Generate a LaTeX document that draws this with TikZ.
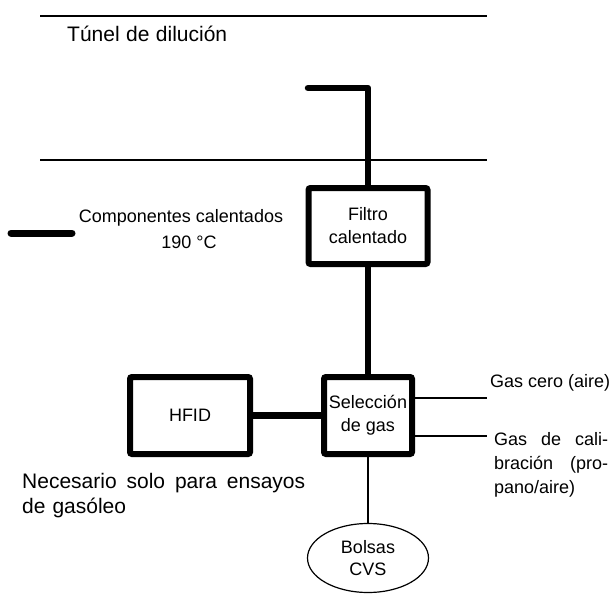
\documentclass[tikz,border=0pt]{standalone}
\usepackage{fontspec}
\setmainfont{Liberation Sans}
\usetikzlibrary{shapes.geometric}
\newcommand\myjustline[2]{\leavevmode\hbox to #1{#2}}
\begin{document}
\begin{tikzpicture}[x=1pt,y=-1pt,
  every node/.style={font=\fontsize{18}{24}\selectfont, inner sep=0pt},
  hbox/.style={draw, line width=6pt, rounded corners=2pt, align=center, fill=white, font=\fontsize{18}{23}\selectfont},
  thinline/.style={line width=1.2pt},
  heated/.style={line width=6.5pt, line cap=round, line join=round},
  tunnel/.style={line width=1.3pt},
  bigtext/.style={font=\fontsize{21}{25}\selectfont}]
\useasboundingbox (0,0) rectangle (611,594);

% dilution tunnel
\coordinate (t1a) at (40,16);
\coordinate (t1b) at (487,16);
\coordinate (t2a) at (40,160);
\coordinate (t2b) at (487,160);
\draw[tunnel] (t1a) -- (t1b);
\draw[tunnel] (t2a) -- (t2b);
\node[anchor=west, bigtext] (tunel) at (67,34) {\myjustline{160pt}{Túnel\hfill de\hfill dilución}};

% nodes
\node[hbox, minimum width=119pt, minimum height=76pt] (filt) at (368,226) {Filtro\\calentado};
\node[hbox, minimum width=88pt, minimum height=77pt] (sel) at (368,415.5) {Selección\\de gas};
\node[hbox, minimum width=120pt, minimum height=77pt] (hfid) at (190,415.5) {HFID};
\node[draw, ellipse, thinline, minimum width=121pt, minimum height=69pt, align=center, font=\fontsize{18}{22}\selectfont] (cvs) at (368,558) {Bolsas\\CVS};

% heated lines
\coordinate (probe) at (308,88);
\draw[heated] (probe) -- (probe -| filt) -- (filt.north);
\draw[heated] (filt.south) -- (sel.north);
\draw[line width=7pt] (hfid.east) -- (sel.west);

% thin lines
\coordinate (gz) at (487,398);
\coordinate (gc) at (487,436);
\draw[thinline] (gz -| sel.east) -- (gz);
\draw[thinline] (gc -| sel.east) -- (gc);
\draw[thinline] (sel.south) -- (cvs.north);

% labels right
\node[anchor=west] (gzl) at (490,383) {Gas cero (aire)};
\node[anchor=west, align=left, text width=114pt] (gcl) at (494,464.5)
  {\myjustline{114pt}{Gas\hfill de\hfill cali-}\\\myjustline{114pt}{bración\hfill (pro-}\\pano/aire)};

% legend
\coordinate (lega) at (11,233);
\coordinate (legb) at (72,233);
\draw[heated, line width=7pt] (lega) -- (legb);
\node (leg1) at (181,218) {Componentes calentados};
\node (leg2) at (189,242) {190 °C};

% note
\node[anchor=west, align=left, text width=283pt, bigtext] (nota) at (22,495.5)
  {\myjustline{283pt}{Necesario\hfill solo\hfill para\hfill ensayos}\\de gasóleo};
\end{tikzpicture}
\end{document}
